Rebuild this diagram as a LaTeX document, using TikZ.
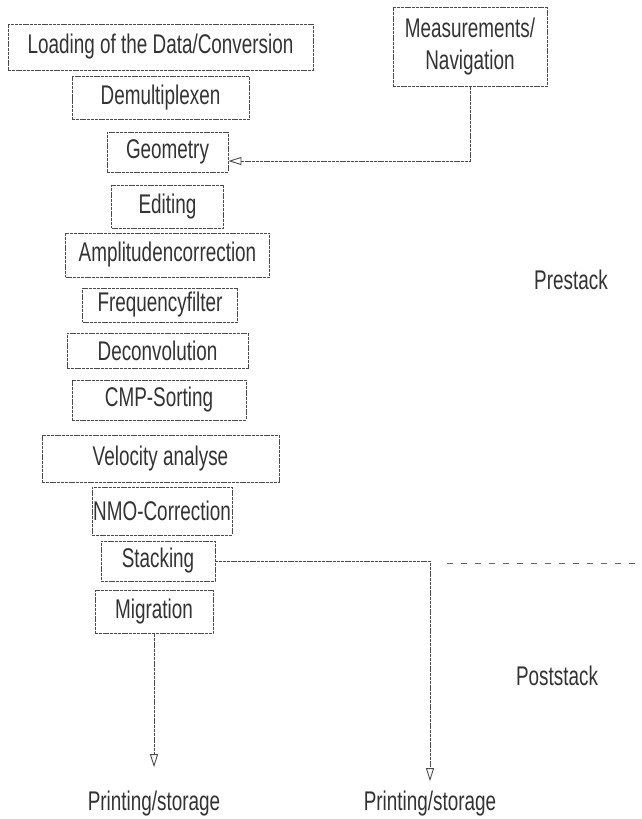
\documentclass[tikz,border=0pt]{standalone}
\usepackage{fontspec}
\setmainfont[FakeStretch=0.7]{Liberation Sans}
\usetikzlibrary{arrows.meta}
\tikzset{%
	>={Triangle[open,width=8pt,length=13pt]},
	% Specifications for style of nodes:
	base/.style = {rectangle, draw=black!70, line width=0.9pt,
		dash pattern=on 3pt off 0.8pt, inner sep=0pt,
		text centered, text=black!80},
	stepbox/.style = {base, minimum width=120pt, minimum height=42pt},
	sidebox/.style = {base, align=center, minimum width=154pt, minimum height=79pt},
	plain/.style = {text=black!80, inner sep=0pt},
	flow/.style = {draw=black!70, line width=0.9pt, dash pattern=on 3pt off 0.8pt},
}

\begin{document}
\begin{tikzpicture}[x=1pt, y=1pt, node distance=51pt,
		every node/.style={font=\fontsize{27}{32}\selectfont}]
		\useasboundingbox (0,0) rectangle (641,-819);

		% Specification of nodes (position, etc.)
		\node (start)    [stepbox, minimum width=305pt, minimum height=46pt] at (160.5,-47)
		{Loading of the Data/Conversion};

		\node (demux)    [stepbox, below of=start, minimum width=177pt, minimum height=43pt]	{Demultiplexen};

		\node (geometry) [stepbox, below of=demux, yshift=-3pt, xshift=7pt, minimum width=121pt, minimum height=40pt] {Geometry};

		\node (editing)  [stepbox, below of=geometry, yshift=-3.5pt, minimum width=112pt, minimum height=43pt] {Editing};

		\node (ampcorr)  [stepbox, below of=editing, yshift=2.5pt, minimum width=204pt, minimum height=44pt] {Amplitudencorrection};

		\node (freqfilt) [stepbox, below of=ampcorr, yshift=1pt, xshift=-7.5pt, minimum width=155pt, minimum height=34pt] {Frequencyfilter};

		\node (deconv)   [stepbox, below of=freqfilt, yshift=5.5pt, xshift=-2.5pt, minimum width=181pt, minimum height=35pt] {Deconvolution};

		\node (cmpsort)  [stepbox, below of=deconv, yshift=1.5pt, xshift=1.5pt, minimum width=174pt, minimum height=40pt] {CMP-Sorting};

		\node (velocity) [stepbox, below of=cmpsort, yshift=-7.5pt, xshift=1.5pt, minimum width=237pt, minimum height=47pt] {Velocity analyse};

		\node (nmo)      [stepbox, below of=velocity, yshift=-1.5pt, xshift=1.5pt, minimum width=140pt, minimum height=48pt] {NMO-Correction};

		\node (stacking) [stepbox, below of=nmo, yshift=1pt, xshift=-4pt, minimum width=114pt, minimum height=40pt] {Stacking};

		\node (migration) [stepbox, below of=stacking, xshift=-4pt, minimum width=118pt, minimum height=43pt] {Migration};

		\node (measure)  [sidebox, right of=start, xshift=258.5pt] {Measurements/ \\ Navigation};

		\node (store1)   [plain, below of=migration, yshift=-141pt] {Printing/storage};
		\node (store2)   [plain, right of=store1, xshift=225pt] {Printing/storage};

		\node (prestack)  [plain] at (571,-280) {Prestack};
		\node (poststack) [plain] at (557,-676) {Poststack};

		\coordinate (dashL) at (447,-563);
		\coordinate (dashR) at (641,-563);

		\draw[->] [flow] (measure) |- ([yshift=-9pt]geometry.east);

		\draw[->] [flow] (stacking) -| ([yshift=10pt]store2.north);

		\draw[->] [flow] (migration) -- ([yshift=24pt]store1.north);

		\draw [draw=black!60, line width=0.8pt, dash pattern=on 6pt off 8pt] (dashL) -- (dashR);

	\end{tikzpicture}
\end{document}
